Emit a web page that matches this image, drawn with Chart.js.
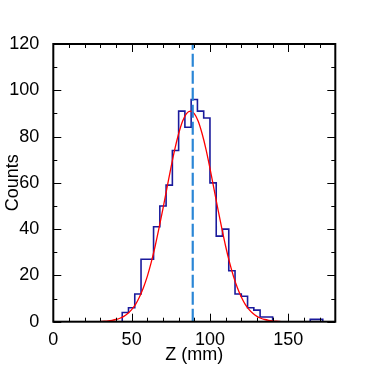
<!DOCTYPE html>
<html>
<head>
<meta charset="utf-8">
<script src="https://cdn.jsdelivr.net/npm/chart.js@4"></script>
<style>
  html, body { margin: 0; padding: 0; background: #fff; }
  #wrap { width: 382px; height: 366px; }
</style>
</head>
<body>
<div id="wrap"><canvas id="myChart" width="382" height="366"></canvas></div>
<script>
// histogram: 45 bins of 4 mm from 0 to 180
let binStart = 0;
let binWidth = 4;
let counts = [
  0, 0, 0, 0, 0, 0, 0, 0, 0, 0, 0,
  4, 6, 12, 27, 27, 41, 50, 59, 74, 91,
  84, 96, 91, 88, 60, 37, 40, 22, 12, 11,
  6, 5, 2, 2, 0, 0, 0, 0, 0, 0,
  1, 1, 0, 0
];

// gaussian fit curve
let fitX = [30, 32.5, 35, 37.5, 40, 42.5, 45, 47.5, 50, 52.5, 55, 57.5, 60, 62.5, 65, 67.5, 70, 72.5,
  75, 77.5, 80, 82.5, 85, 87.5, 90, 92.5, 95, 97.5, 100, 102.5, 105, 107.5, 110, 112.5, 115,
  117.5, 120, 122.5, 125, 127.5, 130, 132.5, 135, 137.5, 140, 142.5, 145];
let fitY = [0.1, 0.2, 0.35, 0.6, 0.95, 1.5, 2.3, 3.5, 5.2, 7.5, 10.7, 14.7, 19.6, 25.6, 32.6, 40.5, 48.9, 57.6,
  66.3, 74.4, 81.2, 86.6, 89.9, 91, 89.9, 86.6, 81.2, 74.4, 66.3, 57.6, 48.9, 40.5, 32.6, 25.6, 19.6,
  14.7, 10.7, 7.5, 5.2, 3.5, 2.3, 1.5, 0.95, 0.6, 0.35, 0.2, 0.1];

let meanZ = 89;

let xTicks = [0, 50, 100, 150];
let yTicks = [0, 20, 40, 60, 80, 100, 120];

let fontName = '"Liberation Sans", Arial, Helvetica, sans-serif';

let histPoints = counts.map((c, i) => ({ x: binStart + i * binWidth, y: c }));
histPoints.push({ x: binStart + counts.length * binWidth, y: counts[counts.length - 1] });

let fitPoints = fitX.map((x, i) => ({ x: x, y: fitY[i] }));

// frame + inside ticks like ROOT
const frameTicks = {
  id: 'frameTicks',
  afterDraw(chart) {
    let ctx = chart.ctx;
    let a = chart.chartArea;
    let xs = chart.scales.x;
    let ys = chart.scales.y;
    ctx.save();
    ctx.strokeStyle = '#000';
    ctx.lineWidth = 1;
    ctx.beginPath();
    for (let v = 0; v <= 180; v += 10) {
      let px = Math.round(xs.getPixelForValue(v)) + 0.5;
      let len = v % 50 === 0 ? 8 : 4;
      ctx.moveTo(px, a.bottom); ctx.lineTo(px, a.bottom - len);
      ctx.moveTo(px, a.top); ctx.lineTo(px, a.top + len);
    }
    for (let v = 0; v <= 120; v += 10) {
      let py = Math.round(ys.getPixelForValue(v)) + 0.5;
      let len = v % 20 === 0 ? 8 : 4;
      ctx.moveTo(a.left, py); ctx.lineTo(a.left + len, py);
      ctx.moveTo(a.right, py); ctx.lineTo(a.right - len, py);
    }
    ctx.stroke();
    ctx.lineWidth = 2;
    ctx.strokeRect(a.left, a.top, a.right - a.left, a.bottom - a.top);
    ctx.restore();
  }
};

let ctx = document.getElementById('myChart').getContext('2d');
let myChart = new Chart(ctx, {
  type: 'line',
  data: {
    datasets: [
      {
        label: 'mean',
        data: [{ x: meanZ, y: 0 }, { x: meanZ, y: 120 }],
        borderColor: '#2a86d6',
        borderWidth: 2.2,
        borderDash: [13, 4],
        pointRadius: 0,
        order: 0
      },
      {
        label: 'fit',
        data: fitPoints,
        borderColor: '#ff0000',
        borderWidth: 1.3,
        pointRadius: 0,
        cubicInterpolationMode: 'monotone',
        order: 1
      },
      {
        label: 'Counts',
        data: histPoints,
        borderColor: '#1a1a9c',
        borderWidth: 1.6,
        stepped: true,
        pointRadius: 0,
        order: 2
      }
    ]
  },
  options: {
    responsive: false,
    animation: false,
    layout: { padding: { top: 44, right: 46.7, left: 0, bottom: 0 } },
    plugins: { legend: { display: false }, tooltip: { enabled: false } },
    scales: {
      x: {
        type: 'linear',
        min: 0,
        max: 180,
        grid: { display: false },
        border: { display: false },
        afterFit: s => { s.height = 44.3; },
        afterBuildTicks: s => { s.ticks = xTicks.map(v => ({ value: v })); },
        ticks: { color: '#000', padding: 0, maxRotation: 0, font: { family: fontName, size: 18 } },
        title: { display: true, text: 'Z (mm)', color: '#000', padding: { top: 0, bottom: 0 }, font: { family: fontName, size: 18 } }
      },
      y: {
        type: 'linear',
        min: 0,
        max: 120,
        grid: { display: false },
        border: { display: false },
        afterFit: s => { s.width = 53.3; },
        afterBuildTicks: s => { s.ticks = yTicks.map(v => ({ value: v })); },
        ticks: { color: '#000', padding: 6, font: { family: fontName, size: 18 } },
        title: { display: true, text: 'Counts', color: '#000', padding: { top: 2, bottom: 0 }, font: { family: fontName, size: 18 } }
      }
    }
  },
  plugins: [frameTicks]
});
</script>
</body>
</html>
